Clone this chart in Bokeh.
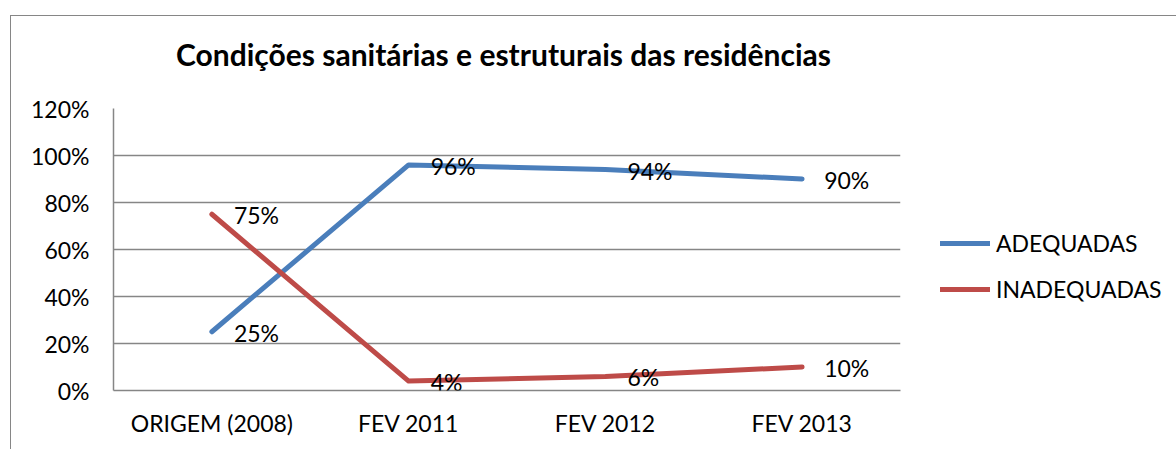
from bokeh.plotting import figure
from bokeh.layouts import row, column
from bokeh.models import (ColumnDataSource, FactorRange, Legend, LegendItem, LabelSet, Label,
                          FixedTicker, CustomJSTickFormatter, Range1d)
from bokeh.core.properties import value
from bokeh.embed import file_html
from bokeh.resources import INLINE

categories = ["ORIGEM (2008)", "FEV 2011", "FEV 2012", "FEV 2013"]
adequadas = [25, 96, 94, 90]
inadequadas = [75, 4, 6, 10]
y_ticks = [0, 20, 40, 60, 80, 100, 120]
series_names = ["ADEQUADAS", "INADEQUADAS"]
title_text = "Condições sanitárias e estruturais das residências"

FONT = "Lato"
BLUE = "#4A7EBB"
RED = "#BE4B48"
GRAY = "#868686"

TOTAL_W = 1166
W1, W2 = 909, 257
H_TITLE = 77
H = 356

# ---- title strip ----
pt = figure(width=TOTAL_W, height=H_TITLE, x_range=(0, 1), y_range=(0, 1),
            output_backend="svg", toolbar_location=None, min_border=0,
            outline_line_color=None)
pt.axis.visible = False
pt.grid.visible = False
pt.add_layout(Label(x=492, y=H_TITLE - 37, x_units="screen", y_units="screen",
                    text=title_text, text_align="center", text_baseline="middle",
                    text_font=FONT, text_font_style="bold", text_font_size="30px",
                    text_color="black"))

# ---- main plot ----
p = figure(width=W1, height=H, x_range=FactorRange(*categories, range_padding=0),
           y_range=(0, 120), output_backend="svg", toolbar_location=None,
           min_border_left=102, min_border_right=20, min_border_top=15, min_border_bottom=59)
p.outline_line_color = None

src_a = ColumnDataSource(dict(x=categories, y=adequadas, t=[f"{v}%" for v in adequadas]))
src_i = ColumnDataSource(dict(x=categories, y=inadequadas, t=[f"{v}%" for v in inadequadas]))

line_styles = [dict(line_color=BLUE, line_width=5, line_cap="round", line_join="round"),
               dict(line_color=RED, line_width=5, line_cap="round", line_join="round")]

p.line("x", "y", source=src_a, **line_styles[0])
p.line("x", "y", source=src_i, **line_styles[1])

for src in (src_a, src_i):
    p.add_layout(LabelSet(x="x", y="y", text="t", source=src, x_offset=22, y_offset=-1,
                          text_baseline="middle", text_align="left",
                          text_font=value(FONT), text_font_size=value("23px"), text_color="black"))

p.yaxis.ticker = FixedTicker(ticks=y_ticks)
p.yaxis.formatter = CustomJSTickFormatter(code="return tick + '%';")
for ax in (p.xaxis[0], p.yaxis[0]):
    ax.axis_line_color = GRAY
    ax.axis_line_width = 1.5
    ax.major_tick_line_color = None
    ax.minor_tick_line_color = None
    ax.major_tick_out = 0
    ax.major_tick_in = 0
    ax.major_label_text_font = FONT
    ax.major_label_text_font_size = "23px"
    ax.major_label_text_color = "black"
p.yaxis.major_label_standoff = 24
p.xaxis.major_label_standoff = 18

p.xgrid.grid_line_color = None
p.ygrid.ticker = FixedTicker(ticks=y_ticks)
p.ygrid.grid_line_color = GRAY
p.ygrid.grid_line_width = 1.5

# ---- legend strip (same series, drawn off-frame; only the legend shows) ----
pl = figure(width=W2, height=H, x_range=FactorRange(*categories), y_range=Range1d(1000, 1001),
            output_backend="svg", toolbar_location=None, min_border=0, outline_line_color=None)
pl.axis.visible = False
pl.grid.visible = False
la = pl.line("x", "y", source=src_a, **line_styles[0])
li = pl.line("x", "y", source=src_i, **line_styles[1])
legend = Legend(items=[LegendItem(label=series_names[0], renderers=[la]),
                       LegendItem(label=series_names[1], renderers=[li])],
                location=(20, 87), orientation="vertical",
                glyph_width=50, glyph_height=20, spacing=18, label_standoff=6,
                label_text_font=FONT, label_text_font_size="23px", label_text_color="black",
                border_line_color=None, background_fill_alpha=0, padding=0, margin=0)
pl.add_layout(legend, "center")

layout = column(pt, row(p, pl, spacing=0), spacing=0)
layout.styles = {"margin-left": "10px", "margin-top": "15px",
                 "border-left": f"1px solid {GRAY}", "border-top": f"1px solid {GRAY}"}

open("out.html", "w").write(file_html(layout, INLINE))
